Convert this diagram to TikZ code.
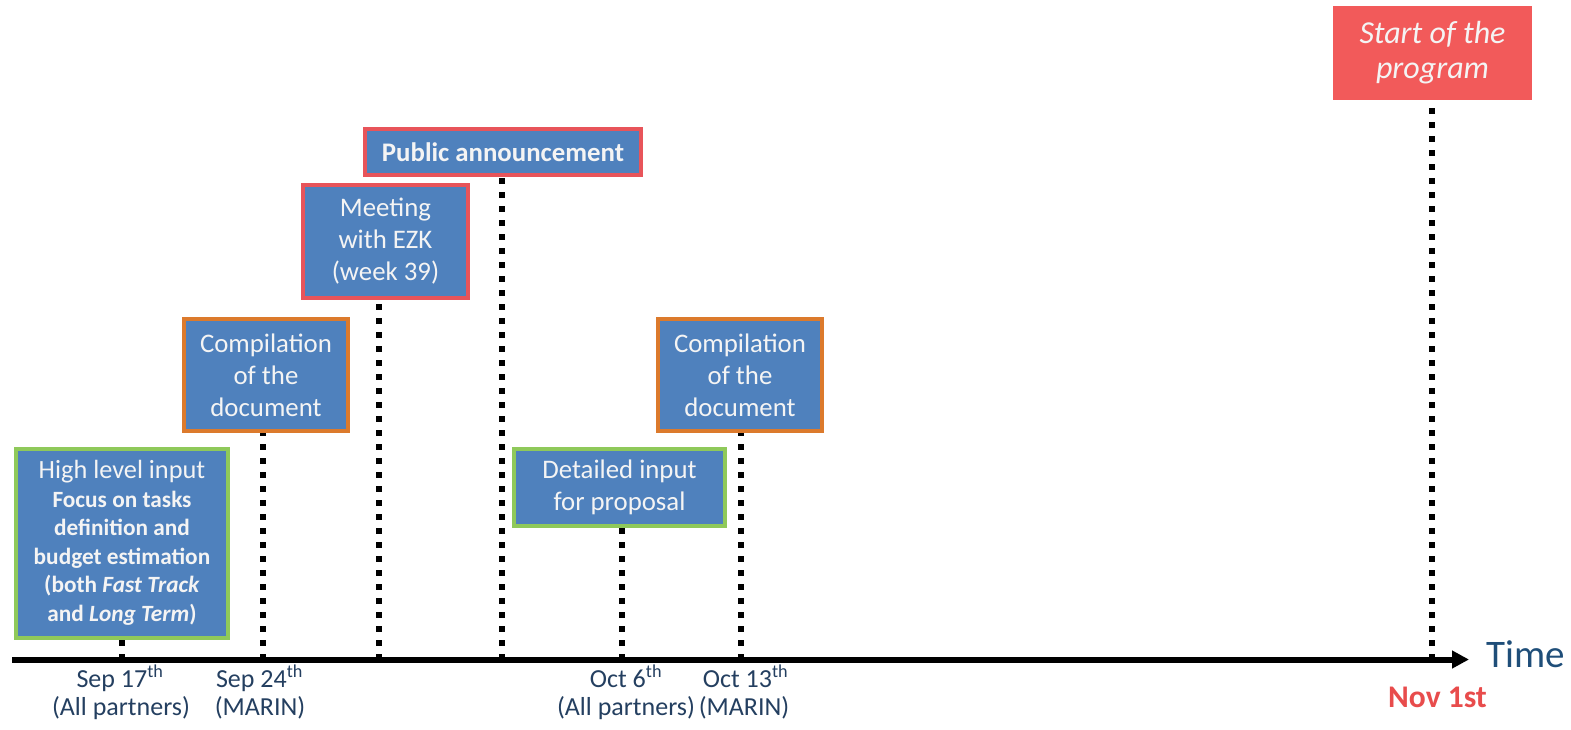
\documentclass[tikz,border=0pt]{standalone}
\usepackage{fontspec}
\setmainfont{Carlito}
\usetikzlibrary{arrows.meta}
\definecolor{boxblue}{HTML}{4F81BD}
\definecolor{bgreen}{HTML}{8FC95A}
\definecolor{borange}{HTML}{DC7A2C}
\definecolor{bred}{HTML}{E8545A}
\definecolor{startred}{HTML}{F25A5A}
\definecolor{boxtext}{HTML}{F4F4F4}
\definecolor{labtext}{HTML}{243F60}
\definecolor{timeblue}{HTML}{1F4E79}
\definecolor{novred}{HTML}{E84C4C}
\tikzset{
  evbox/.style={rectangle, fill=boxblue, line width=4pt, inner sep=0pt,
    text=boxtext, align=center, font=\fontsize{26.8}{32}\selectfont},
  greenbox/.style={evbox, draw=bgreen},
  orangebox/.style={evbox, draw=borange},
  redbox/.style={evbox, draw=bred},
  startbox/.style={rectangle, fill=startred, inner sep=0pt, text=boxtext,
    align=center, font=\fontsize{32}{35}\selectfont\itshape},
  dotline/.style={line width=6pt, dash pattern=on 6pt off 8pt, black},
  datelab/.style={anchor=base, text=labtext, inner sep=0pt, font=\fontsize{26}{30}\selectfont},
}
\newcommand{\smallbold}{\fontsize{23.3}{28.5}\selectfont\bfseries}
\begin{document}
\begin{tikzpicture}[x=1pt,y=-1pt]
\useasboundingbox (0,0) rectangle (1571,729);
% boxes
\node[greenbox, minimum width=212pt, minimum height=189pt, font=\fontsize{26.3}{28.5}\selectfont] (hl) at (122,543)
  {High level input\\{\smallbold Focus on tasks}\\{\smallbold definition and}\\{\smallbold budget estimation}\\{\smallbold (both \textit{Fast Track}}\\{\smallbold and \textit{Long Term})}};
\node[orangebox, minimum width=164pt, minimum height=112pt] (c1) at (266,375)
  {Compilation\\of the\\document};
\node[redbox, minimum width=165pt, minimum height=113pt] (meet) at (385.5,241.5)
  {Meeting\\with EZK\\(week 39)};
\node[redbox, minimum width=276pt, minimum height=46pt] (pub) at (503,152)
  {\textbf{Public announcement}};
\node[orangebox, minimum width=164pt, minimum height=112pt] (c2) at (740,375)
  {Compilation\\of the\\document};
\node[greenbox, minimum width=211pt, minimum height=77pt] (det) at (619.5,487.5)
  {Detailed input\\for proposal};
\node[startbox, minimum width=199pt, minimum height=94pt] (start) at (1432.5,53)
  {Start of the\\program};
% timeline
\coordinate (t0) at (12,659.5);
\coordinate (tend) at (1469,659.5);
\coordinate (s17) at (122,659.5);
\coordinate (s24) at (262.5,659.5);
\coordinate (wk39) at (379,659.5);
\coordinate (pa) at (501.5,659.5);
\coordinate (o6) at (621.5,659.5);
\coordinate (o13) at (741,659.5);
\coordinate (n1) at (1432,659.5);
\draw[dotline] (s17) -- (s17 |- hl.south);
\draw[dotline] (s24) -- (s24 |- c1.south);
\draw[dotline] (wk39) -- (wk39 |- meet.south);
\draw[dotline] (pa) -- (pa |- pub.south);
\draw[dotline] (o6) -- (o6 |- det.south);
\draw[dotline] (o13) -- (o13 |- c2.south);
\draw[dotline] (n1) -- (n1 |- start.south);
\draw[line width=6pt, -{Triangle[length=17pt,width=17pt]}] (t0) -- (tend);
\node[anchor=base west, inner sep=0pt, text=timeblue, font=\fontsize{39}{44}\selectfont] (time) at (1486,667) {Time};
% date labels
\node[datelab] (l1a) at (120,687) {Sep 17\textsuperscript{th}};
\node[datelab] (l1b) at (121,715) {(All partners)};
\node[datelab] (l2a) at (259.5,687) {Sep 24\textsuperscript{th}};
\node[datelab] (l2b) at (260,715) {(MARIN)};
\node[datelab] (l3a) at (626,687) {Oct 6\textsuperscript{th}};
\node[datelab] (l3b) at (626,715) {(All partners)};
\node[datelab] (l4a) at (745.5,687) {Oct 13\textsuperscript{th}};
\node[datelab] (l4b) at (744,715) {(MARIN)};
\node[anchor=base, inner sep=0pt, text=novred, font=\fontsize{31.5}{34}\selectfont\bfseries] (nov) at (1437.5,707) {Nov 1st};
\end{tikzpicture}
\end{document}
